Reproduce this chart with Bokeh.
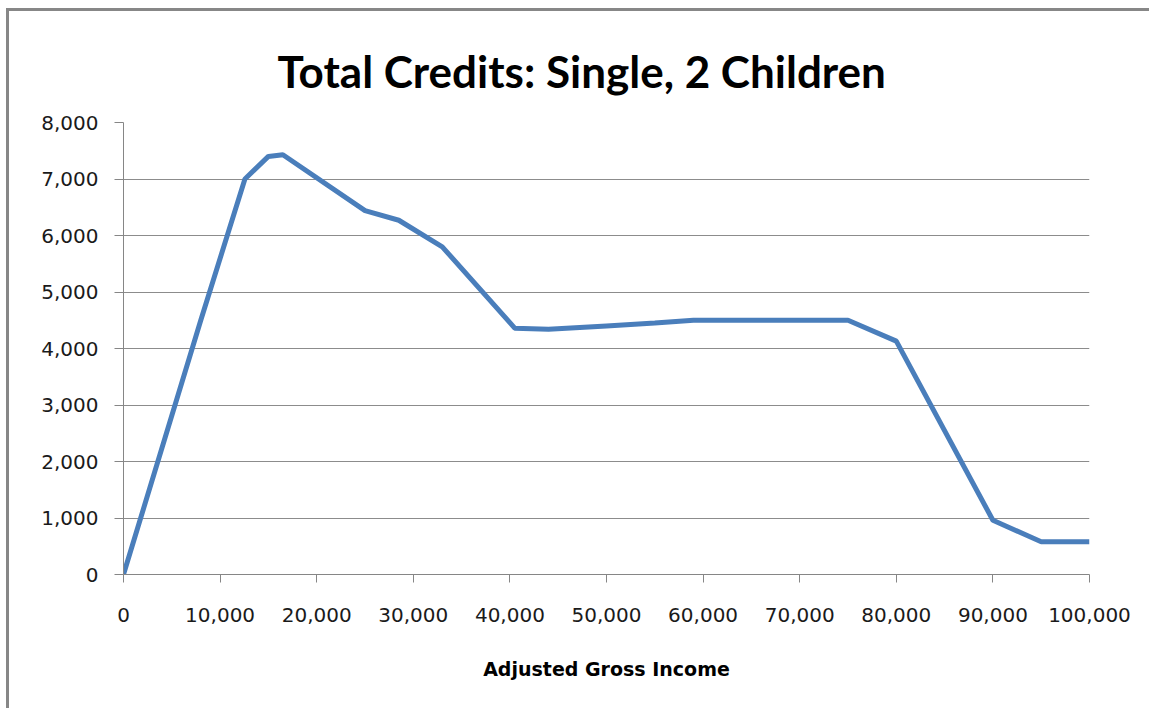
from bokeh.plotting import figure
from bokeh.models import Range1d, FixedTicker, NumeralTickFormatter
from bokeh.embed import file_html
from bokeh.resources import INLINE

# Data
income = [0, 8000, 12570, 15000, 16500, 25000, 28500, 33000, 40500, 44000,
          50000, 55000, 59000, 75000, 80000, 90000, 95000, 100000]
credits = [0, 4500, 7000, 7400, 7430, 6440, 6270, 5800, 4360, 4340,
           4400, 4450, 4500, 4500, 4130, 960, 580, 580]
x_ticks = list(range(0, 100001, 10000))
y_ticks = list(range(0, 8001, 1000))
title_text = "Total Credits: Single, 2 Children"
x_label = "Adjusted Gross Income"

p = figure(width=1143, height=700, output_backend="svg", toolbar_location=None,
           x_range=Range1d(0, 100000), y_range=Range1d(0, 8000),
           min_border_left=114, min_border_right=63, min_border_top=111,
           min_border_bottom=137, title=title_text)
p.margin = (8, 0, 0, 6)
p.styles = {"border-top": "3px solid #878787", "border-left": "3px solid #878787"}
p.outline_line_color = None
p.background_fill_color = "white"
p.border_fill_color = "white"

p.title.align = "left"
p.title.offset = 154
p.title.text_font = "Lato"
p.title.text_font_style = "bold"
p.title.text_font_size = "44px"
p.title.text_color = "black"
p.title.standoff = 52

p.line(income, credits, line_color="#4A7EBB", line_width=5)

p.xgrid.grid_line_color = None
p.ygrid.grid_line_color = "#8c8c8c"
p.ygrid.grid_line_width = 1

for ax in (p.xaxis[0], p.yaxis[0]):
    ax.axis_line_color = "#868686"
    ax.major_tick_line_color = "#868686"
    ax.minor_tick_line_color = None
    ax.major_tick_in = 0
    ax.major_label_text_font = "DejaVu Sans"
    ax.major_label_text_font_size = "20px"
    ax.major_label_text_color = "#1a1a1a"
    ax.formatter = NumeralTickFormatter(format="0,0")

p.xaxis.ticker = FixedTicker(ticks=x_ticks)
p.yaxis.ticker = FixedTicker(ticks=y_ticks)
p.xaxis.major_tick_out = 8
p.yaxis.major_tick_out = 9
p.xaxis.major_label_standoff = 25
p.yaxis.major_label_standoff = 16

p.xaxis.axis_label = x_label
p.xaxis.axis_label_text_font = "DejaVu Sans"
p.xaxis.axis_label_text_font_style = "bold"
p.xaxis.axis_label_text_font_size = "19px"
p.xaxis.axis_label_text_color = "black"
p.xaxis.axis_label_standoff = 33

open("out.html", "w").write(file_html(p, INLINE))
